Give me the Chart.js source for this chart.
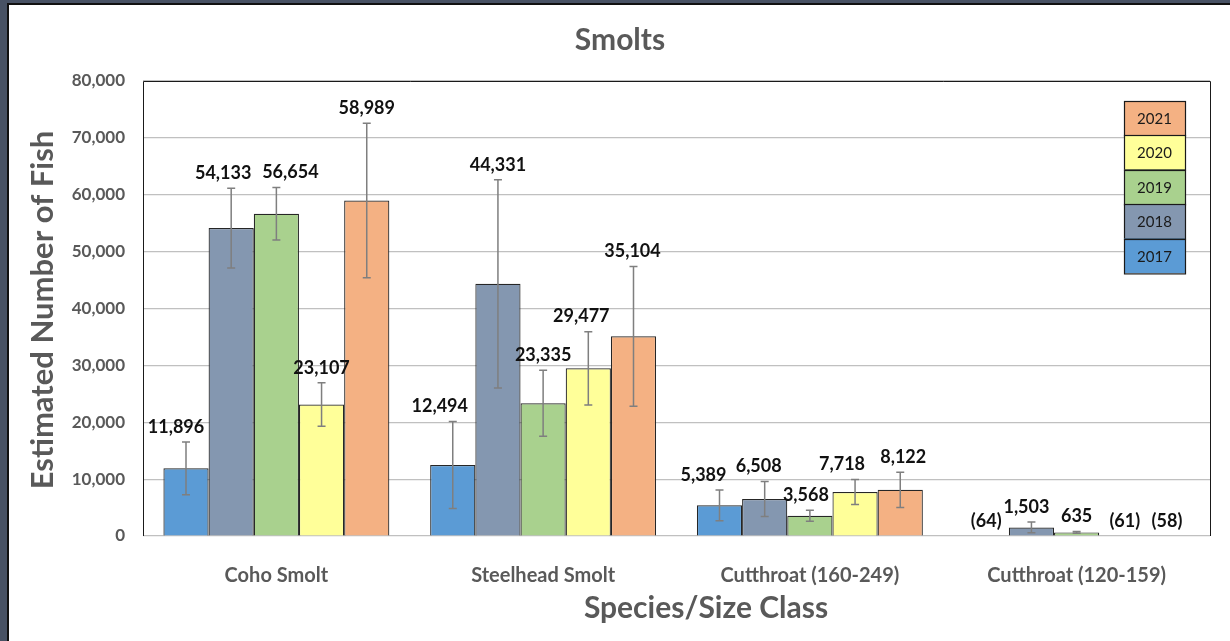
<!DOCTYPE html>
<html>
<head>
<meta charset="utf-8">
<script src="https://cdn.jsdelivr.net/npm/chart.js@4.4.1/dist/chart.umd.min.js"></script>
<style>
  html, body { margin: 0; padding: 0; background: #ffffff; }
  #wrap { position: relative; width: 1230px; height: 641px; overflow: hidden; }
  canvas { position: absolute; left: 0; top: 0; }
  .frame { position: absolute; pointer-events: none; }
</style>
</head>
<body>
<div id="wrap">
  <canvas id="c" width="1230" height="641"></canvas>
  <div class="frame" style="left:0;top:0;width:7px;height:641px;background:#485264;"></div>
  <div class="frame" style="left:7px;top:3px;width:2px;height:638px;background:#111;"></div>
  <div class="frame" style="left:0;top:0;width:1230px;height:3px;background:#485264;"></div>
  <div class="frame" style="left:7px;top:3px;width:1223px;height:2px;background:#111;"></div>
</div>
<script>
// ---- Data ----
const categories = ["Coho Smolt", "Steelhead Smolt", "Cutthroat (160-249)", "Cutthroat (120-159)"];
const years = ["2017", "2018", "2019", "2020", "2021"];

const est2017 = [11896, 12494, 5389, -64];
const est2018 = [54133, 44331, 6508, 1503];
const est2019 = [56654, 23335, 3568, 635];
const est2020 = [23107, 29477, 7718, -61];
const est2021 = [58989, 35104, 8122, -58];

// symmetric error-bar half widths
const err2017 = [4630, 7650, 2720, 0];
const err2018 = [7030, 18300, 3080, 950];
const err2019 = [4600, 5800, 960, 150];
const err2020 = [3830, 6450, 2200, 0];
const err2021 = [13600, 12300, 3100, 0];

const yTickMin = 0, yTickMax = 80000, yTickStep = 10000;

const chartTitle = "Smolts";
const yTitle = "Estimated Number of Fish";
const xTitle = "Species/Size Class";

// ---- Styles ----
const estimates = [est2017, est2018, est2019, est2020, est2021];
const errors = [err2017, err2018, err2019, err2020, err2021];
const colors = ["#5b9bd5", "#8497b0", "#a9d18e", "#ffff99", "#f4b183"];
// small horizontal nudges (px) of value labels, as placed in the original
const labelNudge = [
  [-10, -13, -16, 0],
  [-8, 0, -6, -5],
  [14, 0, -4, 0],
  [0, -7, -13, 3],
  [0, -1, 3, 0]
];
const FONT = "Lato, 'Open Sans', 'Liberation Sans', sans-serif";
const AXIS_COLOR = "#595959";

function fmt(v) {
  const s = Math.abs(v).toLocaleString('en-US');
  return v < 0 ? "(" + s + ")" : s;
}

const errorBarsPlugin = {
  id: 'errorBars',
  afterDatasetsDraw(chart) {
    const ctx = chart.ctx;
    const ys = chart.scales.y;
    ctx.save();
    ctx.strokeStyle = '#7f7f7f';
    ctx.lineWidth = 1.5;
    chart.data.datasets.forEach((ds, di) => {
      const meta = chart.getDatasetMeta(di);
      meta.data.forEach((el, i) => {
        const v = ds.data[i], e = ds.errors[i];
        if (!e) return;
        const yt = ys.getPixelForValue(v + e);
        const yb = ys.getPixelForValue(v - e);
        const x = el.x;
        ctx.beginPath();
        ctx.moveTo(x, yt); ctx.lineTo(x, yb);
        ctx.moveTo(x - 4, yt); ctx.lineTo(x + 4, yt);
        ctx.moveTo(x - 4, yb); ctx.lineTo(x + 4, yb);
        ctx.stroke();
      });
    });
    ctx.restore();
  }
};

const valueLabelsPlugin = {
  id: 'valueLabels',
  afterDatasetsDraw(chart) {
    const ctx = chart.ctx;
    const ys = chart.scales.y;
    ctx.save();
    ctx.font = "bold 18px " + FONT;
    ctx.fillStyle = '#111';
    ctx.textAlign = 'center';
    ctx.textBaseline = 'middle';
    chart.data.datasets.forEach((ds, di) => {
      const meta = chart.getDatasetMeta(di);
      meta.data.forEach((el, i) => {
        const v = ds.data[i], e = ds.errors[i];
        const top = ys.getPixelForValue(Math.max(v, 0) + e);
        ctx.fillText(fmt(v), el.x + labelNudge[di][i], top - 15);
      });
    });
    ctx.restore();
  }
};

const framePlugin = {
  id: 'plotFrame',
  afterDatasetsDraw(chart) {
    const a = chart.chartArea;
    const ctx = chart.ctx;
    ctx.save();
    ctx.strokeStyle = '#1a1a1a';
    ctx.lineWidth = 1;
    ctx.beginPath();
    ctx.moveTo(Math.round(a.left) + 0.5, Math.round(a.bottom));
    ctx.lineTo(Math.round(a.left) + 0.5, Math.round(a.top) + 0.5);
    ctx.lineTo(Math.round(a.right) + 0.5, Math.round(a.top) + 0.5);
    ctx.lineTo(Math.round(a.right) + 0.5, Math.round(a.bottom));
    ctx.stroke();
    ctx.restore();
  }
};

const titlesPlugin = {
  id: 'titles',
  afterDraw(chart) {
    const ctx = chart.ctx;
    ctx.save();
    ctx.fillStyle = AXIS_COLOR;
    ctx.textAlign = 'center';
    ctx.textBaseline = 'middle';
    ctx.font = "bold 30px " + FONT;
    ctx.fillText(chartTitle, 620, 40);
    ctx.font = "bold 30px " + FONT;
    ctx.fillText(xTitle, 706, 608);
    ctx.translate(43, 310);
    ctx.rotate(-Math.PI / 2);
    ctx.font = "bold 31px " + FONT;
    ctx.fillText(yTitle, 0, 0);
    ctx.restore();
  }
};

const boxLegendPlugin = {
  id: 'boxLegend',
  afterDraw(chart) {
    const ctx = chart.ctx;
    const x = 1124, w = 61, h = 34.4;
    let y = 101;
    ctx.save();
    ctx.font = "15px " + FONT;
    ctx.textAlign = 'center';
    ctx.textBaseline = 'middle';
    const dss = chart.data.datasets.slice().reverse();
    dss.forEach(ds => {
      ctx.fillStyle = ds.backgroundColor;
      ctx.fillRect(x, y, w, h);
      ctx.strokeStyle = '#1a1a1a';
      ctx.lineWidth = 1.2;
      ctx.strokeRect(x + 0.5, Math.round(y) + 0.5, w, h);
      ctx.fillStyle = '#1a1a1a';
      ctx.fillText(ds.label, x + w / 2, y + h / 2 + 1);
      y += h;
    });
    ctx.restore();
  }
};

new Chart(document.getElementById('c'), {
  type: 'bar',
  data: {
    labels: categories,
    datasets: years.map((yr, i) => ({
      label: yr,
      data: estimates[i],
      errors: errors[i],
      backgroundColor: colors[i],
      borderColor: '#262626',
      borderWidth: 1.2,
      barPercentage: 1.0,
      categoryPercentage: 0.847
    }))
  },
  options: {
    responsive: false,
    devicePixelRatio: 1,
    animation: false,
    layout: { padding: { top: 81, left: 0, right: 20, bottom: 0 } },
    plugins: {
      legend: { display: false },
      title: { display: false },
      tooltip: { enabled: false }
    },
    scales: {
      x: {
        grid: { display: false },
        border: { display: false },
        ticks: { font: { family: FONT, size: 20, weight: 'bold' }, color: AXIS_COLOR, padding: 20 },
        afterFit(s) { s.height = 105; }
      },
      y: {
        min: yTickMin, max: yTickMax,
        grid: { color: '#c0c0c0', lineWidth: 1.2, drawTicks: false },
        border: { display: false },
        ticks: {
          stepSize: yTickStep,
          padding: 18,
          font: { family: FONT, size: 17, weight: 'bold' },
          color: AXIS_COLOR,
          callback: v => Number(v).toLocaleString('en-US')
        },
        afterFit(s) { s.width = 143; }
      }
    }
  },
  plugins: [errorBarsPlugin, framePlugin, valueLabelsPlugin, titlesPlugin, boxLegendPlugin]
});
</script>
</body>
</html>
